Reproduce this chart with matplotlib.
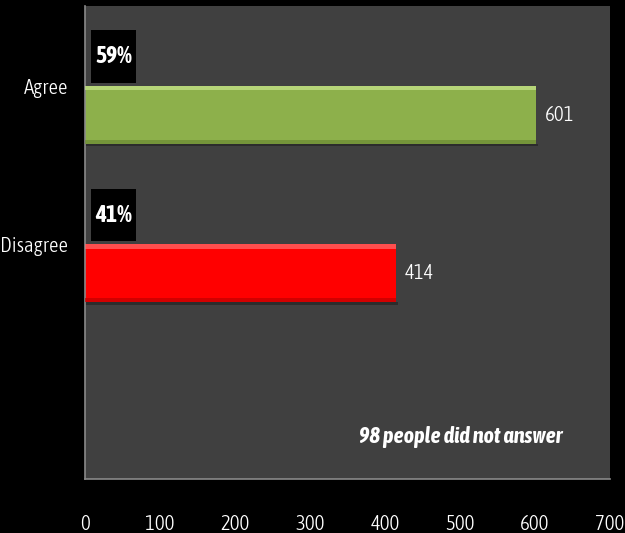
import matplotlib.pyplot as plt
from matplotlib.patches import Rectangle

categories = ["Agree", "Disagree"]
counts = [601, 414]
shares = ["59%", "41%"]
bar_colors = ["#8db04b", "#ff0000"]
top_colors = ["#c8e68c", "#ff7070"]
low_colors = ["#6c8a34", "#c00000"]
xticks = [0, 100, 200, 300, 400, 500, 600, 700]
note = "98 people did not answer"

plt.rcParams['font.family'] = ['Asap Condensed', 'Archivo Narrow', 'DejaVu Sans']

fig = plt.figure(figsize=(6.25, 5.33), dpi=100, facecolor="black")
# plot area: x 85..610, y 6..479 (pixels)
ax = fig.add_axes([85/625, 1-479/533, 525/625, 473/533])
ax.set_facecolor("#404040")

h = 0.366
ypos = list(range(len(categories)))
ax.barh(ypos, counts, height=h, color=bar_colors, edgecolor="none", zorder=2)
# bevel: light top strip, darker bottom strip, soft shadow
for y, c, tc, lc in zip(ypos, counts, top_colors, low_colors):
    ax.add_patch(Rectangle((0, y - h/2), c, h*0.07, color=tc, alpha=0.7, lw=0, zorder=3))
    ax.add_patch(Rectangle((0, y + h/2 - h*0.07), c, h*0.07, color=lc, alpha=0.7, lw=0, zorder=3))
    ax.add_patch(Rectangle((0, y + h/2), c + 3, 0.015, color="black", alpha=0.3, lw=0, zorder=1))

for y, c, s in zip(ypos, counts, shares):
    ax.text(c + 12, y, str(c), color="white", fontsize=15, fontweight=300,
            va="center", ha="left", zorder=4)
    top = y - h/2 - 0.019
    ax.add_patch(Rectangle((8, top), 60, -0.334, color="black", lw=0, zorder=4))
    ax.text(38, top - 0.167, s, color="white", fontsize=17, fontweight="bold",
            va="center", ha="center", zorder=5)

ax.text(0.716, 0.088, note, transform=ax.transAxes, color="white", fontsize=16,
        fontweight=600, fontstyle="italic", ha="center", va="center")

ax.set_xlim(0, 700)
ax.set_ylim(2.297, -0.688)
ax.set_xticks(xticks)
ax.set_xticklabels([str(t) for t in xticks], color="white", fontsize=15, fontweight=300)
ax.set_yticks([y - h/2 for y in ypos])
ax.set_yticklabels(categories, color="white", fontsize=15, fontweight=300)
ax.tick_params(axis="both", length=0)
ax.tick_params(axis="x", pad=25)
ax.tick_params(axis="y", pad=12)

for side in ["top", "right"]:
    ax.spines[side].set_visible(False)
for side in ["left", "bottom"]:
    ax.spines[side].set_color("#8a8a8a")
    ax.spines[side].set_linewidth(1.2)

fig.savefig("out.png", dpi=100, facecolor="black")
